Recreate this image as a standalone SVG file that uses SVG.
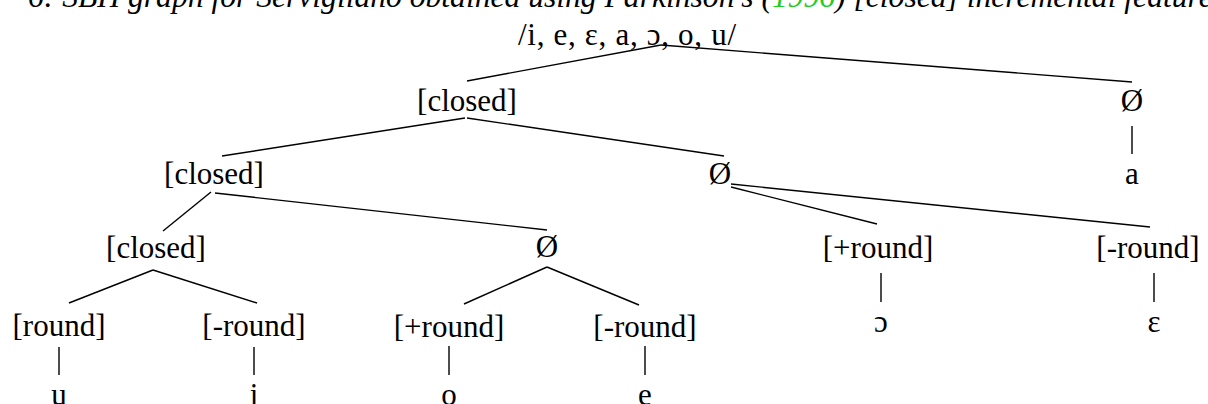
<svg xmlns="http://www.w3.org/2000/svg" width="1208" height="404" viewBox="0 0 1208 404">
<style>
text{font-family:"Liberation Serif","Times New Roman",serif;font-size:31px;fill:#000}
.n{text-anchor:middle}
.cap{font-style:italic;font-size:31.6px}
.cite{fill:#22cc22}
line{stroke:#000;stroke-width:1.4}
</style>
<rect width="1208" height="404" fill="#fff"/>
<text class="cap" x="28" y="7">6: SBH graph for Servigliano obtained using Parkinson's (<tspan class="cite">1996</tspan>) [closed] incremental feature</text>
<g id="connectors">
<line x1="661" y1="45" x2="467" y2="81"/>
<line x1="661" y1="45" x2="1132" y2="82"/>
<line x1="1132" y1="126" x2="1132" y2="154"/>
<line x1="465" y1="118" x2="222" y2="156"/>
<line x1="467" y1="118" x2="724" y2="156"/>
<line x1="211" y1="192" x2="163" y2="231"/>
<line x1="215" y1="193" x2="547" y2="230"/>
<line x1="731" y1="187" x2="877" y2="224"/>
<line x1="731" y1="184" x2="1150" y2="227"/>
<line x1="153" y1="270" x2="69" y2="303"/>
<line x1="153" y1="270" x2="257" y2="303"/>
<line x1="547" y1="267" x2="464" y2="304"/>
<line x1="547" y1="267" x2="639" y2="305"/>
<line x1="59" y1="347" x2="59" y2="375"/>
<line x1="254" y1="347" x2="254" y2="375"/>
<line x1="449" y1="346" x2="449" y2="375"/>
<line x1="645" y1="346" x2="645" y2="375"/>
<line x1="881" y1="273" x2="881" y2="302"/>
<line x1="1154" y1="273" x2="1154" y2="302"/>
</g>
<g id="root"><text x="518" y="45" textLength="218" lengthAdjust="spacing">/i, e, ɛ, a, ɔ, o, u/</text></g>
<g id="closed1"><text class="n" x="467" y="111">[closed]</text></g>
<g id="null1"><text class="n" x="1132" y="111">Ø</text></g>
<g id="leaf-a"><text class="n" x="1132" y="184">a</text></g>
<g id="closed2"><text class="n" x="214" y="184">[closed]</text></g>
<g id="null2"><text class="n" x="720" y="184">Ø</text></g>
<g id="closed3"><text class="n" x="156" y="258">[closed]</text></g>
<g id="null3"><text class="n" x="547" y="257">Ø</text></g>
<g id="plusround-r"><text class="n" x="878" y="258">[+round]</text></g>
<g id="minusround-r"><text class="n" x="1148" y="258">[-round]</text></g>
<g id="round-l"><text class="n" x="59" y="336">[round]</text></g>
<g id="minusround-l"><text class="n" x="254" y="336">[-round]</text></g>
<g id="plusround-m"><text class="n" x="449" y="337">[+round]</text></g>
<g id="minusround-m"><text class="n" x="645" y="337">[-round]</text></g>
<g id="leaf-open-o"><text class="n" x="881" y="332">ɔ</text></g>
<g id="leaf-open-e"><text class="n" x="1154" y="332">ɛ</text></g>
<g id="leaf-u"><text class="n" x="59" y="405">u</text></g>
<g id="leaf-i"><text class="n" x="254" y="405">i</text></g>
<g id="leaf-o"><text class="n" x="449" y="405">o</text></g>
<g id="leaf-e"><text class="n" x="645" y="405">e</text></g>
</svg>
